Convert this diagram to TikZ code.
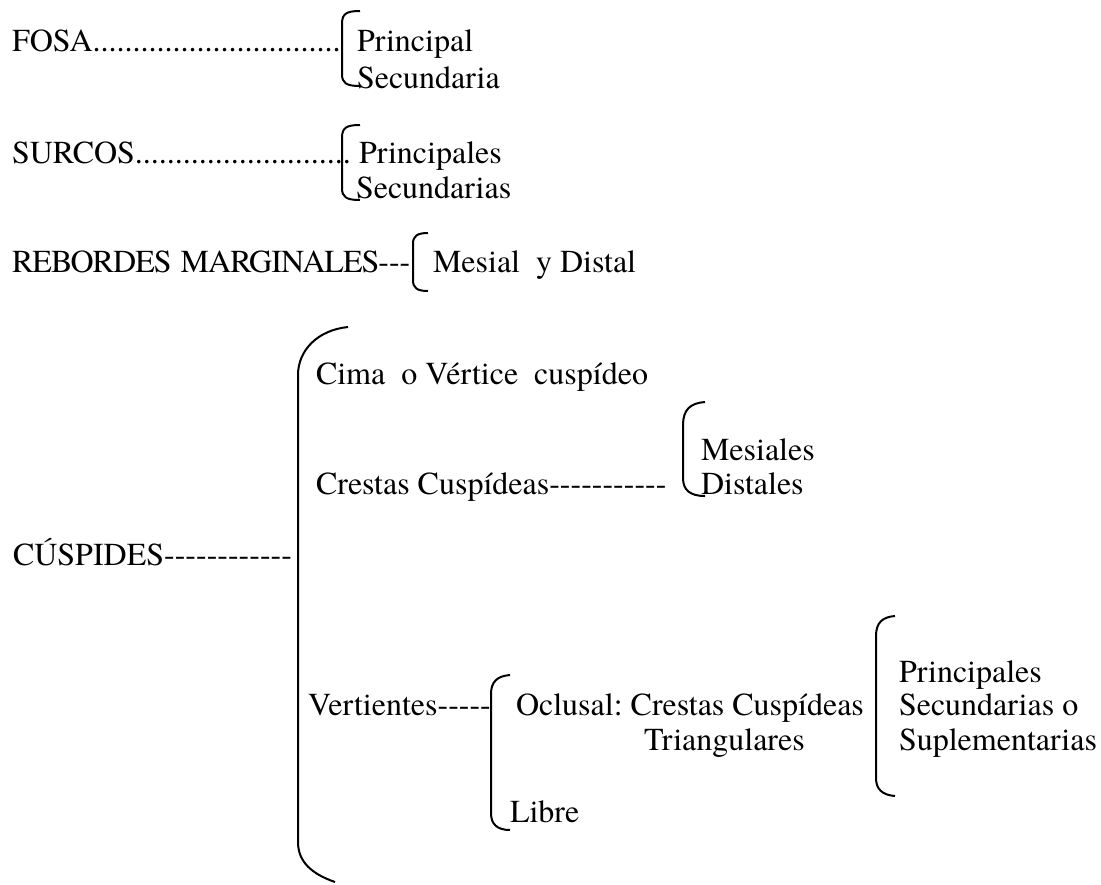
\documentclass[tikz,border=0pt]{standalone}
\usepackage{fontspec}
\setmainfont{texgyretermes}[Extension=.otf,UprightFont=*-regular,BoldFont=*-bold]
\newcommand\hyphs[1]{\foreach \k in {1,...,#1}{-\kern0pt}}
\frenchspacing
\begin{document}
\begin{tikzpicture}[x=0.5pt,y=-0.5pt,line width=1pt,
  txt/.style={anchor=base west,inner sep=0pt,font=\fontsize{16}{19}\selectfont}]
\useasboundingbox (0,0) rectangle (1101,884);

\node[txt] (fosa) at (11,51) {FOSA...............................};
\node[txt] (fosaA) at (356,51) {Principal};
\node[txt] (fosaB) at (356,88) {Secundaria};
\draw (360,11) .. controls (346,11) and (342,14) .. (342,24) -- (342,74) .. controls (342,83) and (346,86) .. (360,86);

\node[txt] (surcos) at (11,163) {SURCOS...........................};
\node[txt] (surcosA) at (358,163) {Principales};
\node[txt] (surcosB) at (355,198) {Secundarias};
\draw (360,125) .. controls (346,125) and (342,128) .. (342,138) -- (342,188) .. controls (342,197) and (346,200) .. (360,200);

\node[txt,font=\fontsize{16}{19}\selectfont\addfontfeature{LetterSpace=-3}] (rebordes) at (11,272) {REBORDES\ \hspace{1pt}MARGINALES\hyphs{3}};
\node[txt] (rebordesA) at (432,272) {Mesial\ \ y Distal};
\draw (428,233) .. controls (417,233) and (413,236) .. (413,244) -- (413,280) .. controls (413,288) and (417,291) .. (428,291);

% cuspides
\node[txt] (cusp) at (12,565) {CÚSPIDES\hyphs{12}};
\draw (348,327) .. controls (318,330) and (298,350) .. (298,375) -- (298,842) .. controls (298,862) and (312,874) .. (335,882);

\node[txt] (cima) at (315,384) {Cima\ \ o Vértice\ \ cuspídeo};

\node[txt] (crestas) at (315,494) {Crestas Cuspídeas\hyphs{11}};
\node[txt] (crestasA) at (700,460) {Mesiales};
\node[txt] (crestasB) at (700,494) {Distales};
\draw (705,402) .. controls (690,403) and (683,410) .. (683,425) -- (683,478) .. controls (683,490) and (690,496) .. (705,496);

\node[txt] (vert) at (307,715) {Vertientes\hyphs{5}};
\node[txt] (vertA) at (515,715) {Oclusal: Crestas Cuspídeas};
\node[txt] (vertA2) at (643,750) {Triangulares};
\node[txt] (vertB) at (509,822) {Libre};
\draw (510,675) .. controls (497,676) and (491,682) .. (491,694) -- (491,813) .. controls (491,824) and (497,830) .. (510,830);

\node[txt] (pend1) at (898,682) {Principales};
\node[txt] (pend2) at (898,715) {Secundarias o};
\node[txt] (pend3) at (898,750) {Suplementarias};
\draw (895,616) .. controls (882,617) and (876,623) .. (876,636) -- (876,778) .. controls (876,789) and (882,795) .. (895,796);
\end{tikzpicture}
\end{document}
